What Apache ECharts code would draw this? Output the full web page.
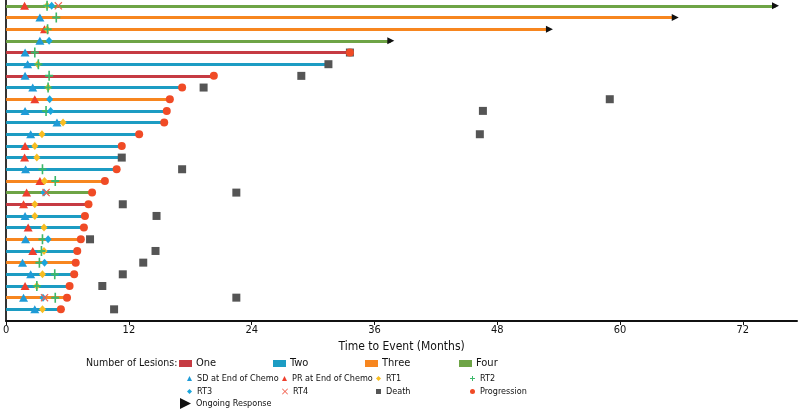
<!DOCTYPE html>
<html>
<head>
<meta charset="utf-8">
<script src="https://cdn.jsdelivr.net/npm/echarts@6/dist/echarts.min.js"></script>
<style>
  html, body { margin: 0; padding: 0; background: #fff; }
  #swimmer { width: 800px; height: 410px; }
</style>
</head>
<body>
<div id="swimmer"></div>
<script>
// one entry per patient, top row first
var lesionCount = [4, 3, 3, 4, 1, 2, 1, 2, 3, 2, 2, 2, 2, 2, 2, 3, 4, 1, 2, 2, 3, 2, 3, 2, 2, 3, 2]
var followUp = [75.2, 65.4, 53.1, 37.6, 33.6, 31.5, 20.3, 17.2, 16.0, 15.7, 15.45, 13.0, 11.3, 11.3,
  10.8, 9.65, 8.4, 8.05, 7.7, 7.6, 7.3, 6.95, 6.8, 6.65, 6.2, 5.95, 5.35]

var groupNames = ['One', 'Two', 'Three', 'Four']
var groupColors = ['#c63b43', '#1c9cc3', '#f7861f', '#6ea446']

// [months, patient row]
var sdChemo = [[3.3, 2], [3.3, 4], [1.85, 5], [2.1, 6], [1.85, 7], [2.6, 8], [1.85, 10], [4.97, 11],
  [2.4, 12], [1.9, 15], [1.85, 19], [1.9, 21], [1.6, 23], [2.4, 24], [1.7, 26], [2.8, 27]]
var prChemo = [[1.8, 1], [3.75, 3], [2.8, 9], [1.85, 13], [1.8, 14], [3.3, 16], [2.0, 17], [1.7, 18],
  [2.15, 20], [2.6, 22], [1.85, 25]]
var rt1 = [[4.0, 1], [4.0, 3], [3.1, 6], [4.1, 8], [5.56, 11], [3.5, 12], [2.8, 13], [3.0, 14],
  [3.75, 16], [2.8, 18], [2.8, 19], [3.7, 20], [3.7, 22], [3.55, 24], [3.0, 25], [3.55, 27]]
var rt2 = [[4.0, 1], [4.9, 2], [4.05, 3], [2.8, 5], [3.15, 6], [4.2, 7], [4.1, 8], [3.9, 10],
  [3.55, 15], [4.8, 16], [3.55, 21], [3.45, 22], [3.25, 23], [4.75, 24], [3.0, 25], [4.8, 26]]
var rt3 = [[4.45, 1], [4.2, 4], [4.25, 9], [4.35, 10], [3.7, 17], [4.1, 21], [3.75, 23], [3.6, 26]]
var rt4 = [[5.1, 1], [3.9, 17], [3.75, 26]]
var death = [[33.6, 5], [31.5, 6], [28.85, 7], [19.3, 8], [59.0, 9], [46.6, 10], [46.3, 12], [11.3, 14],
  [17.2, 15], [22.5, 17], [11.4, 18], [14.7, 19], [8.2, 21], [14.6, 22], [13.4, 23], [11.4, 24],
  [9.4, 25], [22.5, 26], [10.55, 27]]
var progression = [[33.6, 5], [20.3, 7], [17.2, 8], [16.0, 9], [15.7, 10], [15.45, 11], [13.0, 12],
  [11.3, 13], [10.8, 15], [9.65, 16], [8.4, 17], [8.05, 18], [7.7, 19], [7.6, 20], [7.3, 21],
  [6.95, 22], [6.8, 23], [6.65, 24], [6.2, 25], [5.95, 26], [5.35, 27]]
var ongoing = [[75.2, 1], [65.4, 2], [53.1, 3], [37.6, 4]]

var xTicks = [0, 12, 24, 36, 48, 60, 72]

var font = "'DejaVu Sans Condensed', sans-serif"
var plusPath = 'path://M4,0h2v4h4v2h-4v4h-2v-4h-4v-2h4z'
var crossPath = 'path://M1,0L5,4L9,0L10,1L6,5L10,9L9,10L5,6L1,10L0,9L4,5L0,1Z'
var arrowPath = 'path://M0,0L10,5L0,10Z'

var chart = echarts.init(document.getElementById('swimmer'))

var series = groupNames.map(function (name, g) {
  var data = []
  lesionCount.forEach(function (n, i) {
    if (n === g + 1) data.push({ coords: [[0, i + 1], [followUp[i], i + 1]] })
  })
  return {
    name: name,
    type: 'lines',
    coordinateSystem: 'cartesian2d',
    silent: true,
    z: 1,
    itemStyle: { color: groupColors[g] },
    lineStyle: { color: groupColors[g], width: 3, opacity: 1 },
    data: data
  }
})

function dots (name, data, symbol, size, color, z) {
  return {
    name: name,
    type: 'scatter',
    symbol: symbol,
    symbolSize: size,
    z: z,
    itemStyle: { color: color, opacity: 1 },
    data: data
  }
}

series.push(
  dots('SD at End of Chemo', sdChemo, 'triangle', [9, 8], '#1f9bd7', 3),
  dots('PR at End of Chemo', prChemo, 'triangle', [9, 8], '#ee3f2d', 3),
  dots('RT1', rt1, 'diamond', [7, 8], '#f8bd22', 4),
  dots('RT2', rt2, plusPath, [8, 10], '#3cb86a', 5),
  dots('RT3', rt3, 'diamond', [7, 8], '#1ba6dc', 6),
  dots('RT4', rt4, crossPath, [8, 8], '#f2604e', 7),
  dots('Death', death, 'rect', [8, 8], '#555555', 8),
  dots('Progression', progression, 'circle', 8, '#f04b26', 9),
  dots('Ongoing Response', ongoing, arrowPath, [7, 7], '#111111', 10)
)

// legend items: [name, left, top, iconWidth, iconHeight, fontSize, icon]
var legendItems = [
  ['One', 179, 358, 11, 5, 11, 'rect'],
  ['Two', 273, 358, 11, 5, 11, 'rect'],
  ['Three', 365, 358, 11, 5, 11, 'rect'],
  ['Four', 459, 358, 11, 5, 11, 'rect'],
  ['SD at End of Chemo', 187, 374, 5, 5, 9],
  ['PR at End of Chemo', 282, 374, 5, 5, 9],
  ['RT1', 376, 374, 5, 5, 9],
  ['RT2', 470, 374, 5, 5, 9],
  ['RT3', 187, 387, 5, 5, 9],
  ['RT4', 282, 387, 6, 6, 9],
  ['Death', 376, 387, 5, 5, 9],
  ['Progression', 470, 387, 5, 5, 9],
  ['Ongoing Response', 180, 398, 11, 12, 9, arrowPath]
]

var legends = legendItems.map(function (it) {
  var item = { name: it[0] }
  if (it[6]) item.icon = it[6]
  return {
    data: [item],
    left: it[1],
    top: it[2],
    itemWidth: it[3],
    itemHeight: it[4],
    itemGap: 0,
    padding: 0,
    selectedMode: false,
    textStyle: { fontFamily: font, fontSize: it[5], color: '#111' }
  }
})

var option = {
  animation: false,
  backgroundColor: '#fff',
  grid: { left: 5, right: 3, top: 0, bottom: 89 },
  xAxis: {
    type: 'value',
    min: 0,
    max: 77.3,
    interval: 12,
    position: 'bottom',
    name: 'Time to Event (Months)',
    nameLocation: 'middle',
    nameGap: 18,
    nameTextStyle: { fontFamily: font, fontSize: 12, color: '#111' },
    axisLine: { onZero: false, lineStyle: { color: '#111', width: 2 } },
    axisTick: { show: true, length: 4, lineStyle: { color: '#111' } },
    splitLine: { show: false },
    axisLabel: {
      fontFamily: font,
      fontSize: 11,
      color: '#111',
      margin: 4,
      showMaxLabel: false,
      formatter: function (v) { return xTicks.indexOf(v) >= 0 ? String(v) : '' }
    }
  },
  yAxis: {
    type: 'value',
    inverse: true,
    min: 0.5,
    max: 28,
    axisLine: { show: true, onZero: false, lineStyle: { color: '#333', width: 2 } },
    axisTick: { show: false },
    axisLabel: { show: false },
    splitLine: { show: false }
  },
  legend: legends,
  graphic: [{
    type: 'text',
    left: 86,
    top: 358,
    style: { text: 'Number of Lesions:', font: '10.5px ' + font, fill: '#111' }
  }],
  series: series
}

chart.setOption(option)
</script>
</body>
</html>
